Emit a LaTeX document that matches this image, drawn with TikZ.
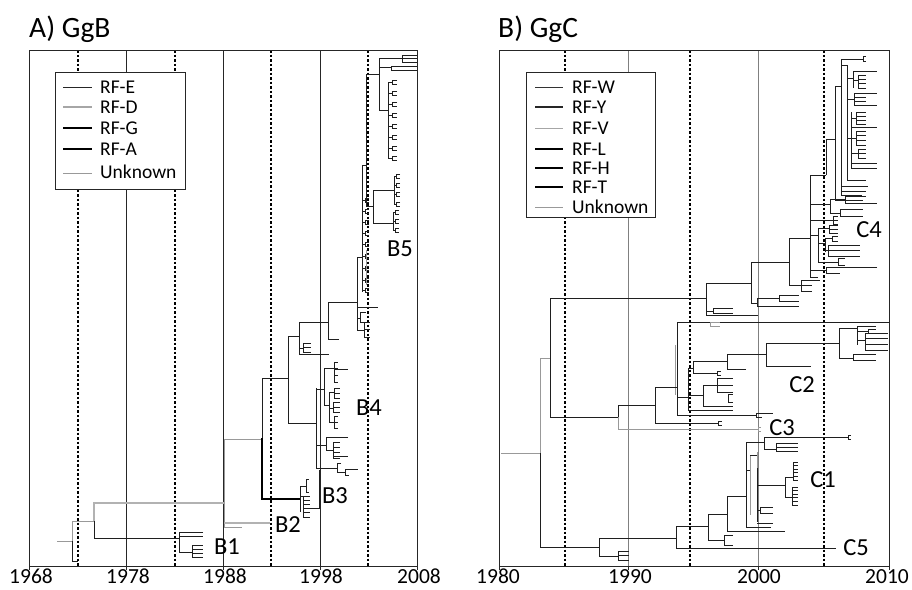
\documentclass[tikz,border=0pt]{standalone}
\usepackage{fontspec}
\setmainfont{Carlito}
\tikzset{
  tr/.style={draw=black!88, line width=0.9pt},
  ug/.style={draw=black!40, line width=0.9pt},
  dg/.style={draw=black!30, line width=2.8pt},
  tk/.style={draw=black, line width=1.8pt},
  gsa/.style={draw=black!85, line width=1pt},
  gsb/.style={draw=black!50, line width=1pt},
  gd/.style={draw=black, line width=1.1pt, dash pattern=on 2.5pt off 2pt},
  fra/.style={draw=black!85, line width=1pt},
  legbox/.style={draw=black!85, fill=white, line width=0.9pt},
  legtxt/.style={anchor=west, inner sep=0pt, font=\fontsize{19.5}{20}\selectfont},
  yr/.style={anchor=base, inner sep=0pt, font=\fontsize{21.5}{22}\selectfont},
  ttl/.style={anchor=base west, inner sep=0pt, font=\fontsize{29.5}{30}\selectfont},
  cl/.style={inner sep=0pt, font=\fontsize{24.5}{25}\selectfont}
}
\newcommand\cmb[6][tr]{\draw[#1] (#2,#3) -- (#2,#4);
  \foreach \ii in {0,...,#6} {\draw[#1] (#2,{#3+(#4-#3)*\ii/#6}) -- (#5,{#3+(#4-#3)*\ii/#6});}}
\newcommand\mf[3]{\draw[tr] ({#1+#3},{#2-2}) -- (#1,{#2-2}) -- (#1,{#2+2}) -- ({#1+#3},{#2+2});}
\begin{document}
\begin{tikzpicture}[x=1pt,y=-1pt]
\useasboundingbox (0,0) rectangle (912,589);
\fill[white] (0,0) rectangle (912,589);
% ================= PANEL A =================
\node[ttl] (tA) at (29,37) {A) GgB};
\foreach \x in {126,223,320} \draw[gsa] (\x,50) -- (\x,566);
\foreach \x in {78,175,271,368} \draw[gd] (\x,50) -- (\x,566);
\draw[fra] (29,50) rectangle (417,566);
\foreach \x in {29,126,223,320,417} \draw[fra] (\x,566) -- (\x,570);
\node[yr] (a1) at (31,583) {1968};
\node[yr] (a2) at (128,583) {1978};
\node[yr] (a3) at (225,583) {1988};
\node[yr] (a4) at (321,583) {1998};
\node[yr] (a5) at (419,583) {2008};
% legend A
\draw[legbox] (55,72) rectangle (185,189);
\draw[draw=black!85, line width=1pt] (63,87) -- (92,87);
\draw[draw=black!35, line width=1.5pt] (63,107) -- (92,107);
\draw[draw=black, line width=1.4pt] (63,128) -- (92,128);
\draw[draw=black, line width=1.2pt] (63,149) -- (92,149);
\draw[draw=black!40, line width=0.9pt] (63,173) -- (92,173);
\node[legtxt] (la1) at (100,87) {RF-E};
\node[legtxt] (la2) at (100,107) {RF-D};
\node[legtxt] (la3) at (100,128) {RF-G};
\node[legtxt] (la4) at (100,149) {RF-A};
\node[legtxt] (la5) at (100,172) {Unknown};
% tree A root
\draw[ug] (57,541) -- (72,541);
\draw[ug] (72,521) -- (72,541);
\draw[tr] (72,541) -- (72,561) -- (78,561);
\draw[ug] (72,521) -- (94,521);
\draw[dg] (94,521) -- (94,503) -- (224,503);
\draw[tr] (94,521) -- (94,538) -- (179,538);
% B1
\draw[tr] (203,532) -- (179,532) -- (179,552) -- (192,552);
\draw[tr] (179,536) -- (203,536);
\cmb{192}{545}{557}{203}{3}
% node 224
\draw[ug] (262,439) -- (224,439) -- (224,527) -- (242,527);
\draw[dg] (224,523) -- (270,523);
% node 262
\draw[tr] (288,378) -- (262,378) -- (262,439);
\draw[tk] (262,438) -- (262,499) -- (300,499);
% B3
\draw[tr] (300,486) -- (300,512);
\draw[tr] (300,486) -- (306,486);
\cmb{306}{479}{492}{309}{1}
\draw[tr] (300,496) -- (303,496);
\cmb{303}{496}{517}{310}{5}
\draw[tr] (304,508) -- (319,508) -- (319,470);
% node 288
\draw[tr] (299,336) -- (288,336) -- (288,423) -- (316,423);
\draw[tr] (328,322) -- (299,322) -- (299,354) -- (329,354);
\draw[tr] (299,348) -- (303,348);
\cmb{303}{343}{352}{311}{2}
\draw[tr] (339,339) -- (328,339) -- (328,302) -- (357,302);
% B4
\draw[tr] (316,388) -- (316,468);
\draw[tr] (316,389) -- (324,389);
\draw[tr] (324,368) -- (324,405);
\draw[tr] (324,368) -- (334,368);
\cmb{334}{362}{382}{338}{3}
\draw[tr] (334,369) -- (348,369);
\draw[tr] (324,405) -- (329,405);
\draw[tr] (329,392) -- (329,422);
\draw[tr] (329,392) -- (334,392);
\cmb{334}{388}{398}{340}{2}
\draw[tr] (329,408) -- (333,408);
\cmb{333}{402}{412}{340}{2}
\draw[tr] (329,422) -- (334,422);
\cmb{334}{416}{428}{338}{2}
\draw[tr] (316,445) -- (326,445);
\draw[tr] (348,437) -- (326,437) -- (326,450) -- (333,450);
\cmb{333}{442}{458}{340}{3}
\draw[tr] (333,456) -- (348,456);
\draw[tr] (316,468) -- (337,468);
\draw[tr] (341,463) -- (337,463) -- (337,472) -- (345,472);
\cmb{345}{469}{475}{349}{1}
\draw[tr] (345,469) -- (358,469);
% B5
\draw[tr] (357,257) -- (357,330);
\draw[tr] (357,257) -- (362,257);
\draw[tr] (357,307) -- (378,307);
\draw[tr] (357,318) -- (360,318);
\cmb{360}{312}{322}{366}{1}
\draw[tr] (357,330) -- (364,330);
\cmb{364}{322}{337}{370}{2}
\draw[tr] (362,165) -- (362,292);
\foreach \yy in {200,211,222,233,244,256,268,280,290} {\draw[tr] (362,\yy) -- (365,\yy); \mf{365}{\yy}{4}}
\draw[ug] (366,250) -- (366,285);
\draw[tr] (362,165) -- (366,165);
\draw[tr] (366,74) -- (366,206);
\draw[tr] (366,206) -- (373,206);
\draw[tr] (394,190) -- (373,190) -- (373,223) -- (393,223);
\draw[tr] (394,176) -- (394,204);
\foreach \yy in {176,185,194,204} {\draw[tr] (394,\yy) -- (396,\yy); \mf{396}{\yy}{4}}
\draw[tr] (393,212) -- (393,230);
\foreach \yy in {212,221,230} {\draw[tr] (393,\yy) -- (395,\yy); \mf{395}{\yy}{4}}
\draw[tr] (366,74) -- (379,74);
\draw[tr] (379,58) -- (379,110);
\draw[tr] (379,58) -- (402,58);
\cmb{402}{55}{62}{417}{2}
\draw[tr] (379,67) -- (391,67);
\cmb{391}{66}{70}{417}{1}
\draw[tr] (379,110) -- (388,110);
\draw[tr] (388,82) -- (388,158);
\foreach \yy in {82,93,104,115,126,137,148,158} {\draw[tr] (388,\yy) -- (392,\yy); \mf{392}{\yy}{5}}
% clade labels A
\node[cl] (B1) at (227,547) {B1};
\node[cl] (B2) at (288,525) {B2};
\node[cl] (B3) at (335,496) {B3};
\node[cl] (B4) at (369,408) {B4};
\node[cl] (B5) at (400,249) {B5};
% ================= PANEL B =================
\node[ttl] (tB) at (498,37) {B) GgC};
\foreach \x in {628,758} \draw[gsb] (\x,50) -- (\x,566);
\foreach \x in {565,690,824} \draw[gd] (\x,50) -- (\x,566);
\draw[fra] (499,50) rectangle (889,566);
\foreach \x in {499,628,758,889} \draw[fra] (\x,566) -- (\x,570);
\node[yr] (b1) at (498,583) {1980};
\node[yr] (b2) at (630,583) {1990};
\node[yr] (b3) at (759,583) {2000};
\node[yr] (b4) at (887,583) {2010};
% legend B
\draw[legbox] (526,72) rectangle (655,217);
\draw[draw=black!80, line width=1pt] (535,87) -- (563,87);
\draw[draw=black!85, line width=1.2pt] (535,107) -- (563,107);
\draw[draw=black!35, line width=0.9pt] (535,128) -- (563,128);
\draw[draw=black, line width=1.3pt] (535,149) -- (563,149);
\draw[draw=black, line width=1.3pt] (535,168) -- (563,168);
\draw[draw=black, line width=1.5pt] (535,187) -- (563,187);
\draw[draw=black!40, line width=0.9pt] (535,207) -- (563,207);
\node[legtxt] (lb1) at (572,87) {RF-W};
\node[legtxt] (lb2) at (572,107) {RF-Y};
\node[legtxt] (lb3) at (572,128) {RF-V};
\node[legtxt] (lb4) at (572,149) {RF-L};
\node[legtxt] (lb5) at (572,168) {RF-H};
\node[legtxt] (lb6) at (572,187) {RF-T};
\node[legtxt] (lb7) at (572,207) {Unknown};
% tree B root
\draw[ug] (501,453) -- (540,453);
\draw[ug] (550,358) -- (540,358) -- (540,453);
\draw[tr] (540,453) -- (540,547) -- (599,547);
\draw[tr] (706,298) -- (550,298) -- (550,417) -- (618,417);
% lower part (C5, C1)
\draw[tr] (676,538) -- (599,538) -- (599,556) -- (618,556);
\cmb{618}{551}{560}{629}{2}
\draw[tr] (708,526) -- (676,526) -- (676,548) -- (836,548);
\draw[tr] (727,514) -- (708,514) -- (708,540) -- (724,540);
\cmb{724}{535}{545}{733}{1}
\draw[tr] (746,496) -- (727,496) -- (727,531) -- (785,531);
\draw[tr] (764,442) -- (746,442) -- (746,527) -- (771,527);
\draw[tr] (757,523) -- (773,523);
\draw[tr] (746,470) -- (750,470);
\draw[ug] (750,455) -- (750,515);
\draw[tr] (750,455) -- (757,455);
\draw[ug] (757,452) -- (757,468);
\draw[tr] (757,468) -- (757,522);
\draw[tr] (757,485) -- (785,485);
\draw[tr] (793,477) -- (785,477) -- (785,497) -- (792,497);
\cmb{793}{462}{480}{798}{5}
\cmb{792}{487}{505}{798}{5}
\draw[tr] (757,510) -- (760,510);
\cmb{760}{507}{513}{773}{1}
% C3 region
\draw[tr] (848,437) -- (764,437) -- (764,449) -- (776,449);
\cmb{776}{443}{451}{798}{2}
\cmb{848}{435}{439}{851}{1}
% node 618
\draw[tr] (655,405) -- (618,405) -- (618,417);
\draw[ug] (618,417) -- (618,429) -- (758,429);
\cmb[ug]{758}{427}{431}{761}{1}
% node 655
\draw[tr] (674,387) -- (655,387) -- (655,423) -- (718,423);
\cmb{718}{421}{425}{722}{1}
% node 677 (C2)
\draw[tr] (889,322) -- (677,322) -- (677,415) -- (756,415);
\cmb{756}{413}{417}{762}{1}
\draw[tr] (756,413) -- (773,413);
\draw[ug] (675,345) -- (675,395);
\draw[tr] (674,387) -- (677,387);
\cmb[ug]{710}{322}{326}{720}{1}
\draw[tr] (677,397) -- (688,397);
\draw[tr] (688,368) -- (688,410);
\draw[tr] (688,368) -- (693,368);
\draw[tr] (693,361) -- (693,373);
\draw[tr] (693,361) -- (727,361);
\draw[tr] (746,369) -- (727,369) -- (727,354) -- (766,354);
\draw[tr] (839,343) -- (766,343) -- (766,366) -- (811,366);
\draw[tr] (693,373) -- (717,373);
\cmb{717}{371}{375}{721}{1}
\draw[tr] (688,395) -- (703,395);
\draw[tr] (717,385) -- (703,385) -- (703,406) -- (733,406);
\cmb{717}{378}{392}{733}{2}
\cmb{728}{394}{402}{733}{1}
\draw[tr] (688,410) -- (733,410);
\draw[tr] (857,328) -- (839,328) -- (839,358) -- (853,358);
\draw[tr] (857,326) -- (857,345);
\draw[tr] (857,326) -- (876,326);
\draw[tr] (857,340) -- (865,340);
\cmb{865}{333}{350}{888}{3}
\cmb{853}{354}{360}{876}{1}
\draw[tr] (857,331) -- (868,331);
\cmb{868}{329}{333}{876}{1}
% upper part
\draw[tr] (751,283) -- (706,283) -- (706,315) -- (758,315);
\draw[tr] (706,311) -- (713,311);
\cmb{713}{308}{313}{733}{1}
\draw[tr] (789,262) -- (751,262) -- (751,303) -- (757,303);
\draw[tr] (757,298) -- (757,306) -- (799,306);
\draw[tr] (757,298) -- (779,298);
\cmb{779}{295}{301}{799}{1}
\draw[tr] (810,238) -- (789,238) -- (789,285) -- (801,285);
\cmb{801}{280}{291}{812}{2}
\draw[tr] (801,280) -- (820,280);
% node 810
\draw[tr] (826,175) -- (810,175) -- (810,277) -- (818,277);
\draw[tr] (810,204) -- (830,204);
\draw[tr] (845,199) -- (830,199) -- (830,213) -- (840,213);
\cmb{845}{196}{203}{866}{1}
\draw[tr] (845,203) -- (877,203);
\cmb{840}{209}{216}{863}{1}
\draw[tr] (810,220) -- (833,220);
\cmb{833}{216}{224}{838}{2}
\draw[tr] (810,235) -- (818,235);
\draw[tr] (818,228) -- (818,262);
\draw[tr] (818,228) -- (829,228);
\cmb{829}{225}{233}{838}{2}
\draw[tr] (818,243) -- (825,243);
\draw[tr] (825,238) -- (825,252);
\draw[tr] (825,238) -- (832,238);
\cmb{832}{236}{241}{838}{1}
\draw[tr] (825,250) -- (828,250);
\cmb{828}{245}{256}{860}{2}
\draw[tr] (818,262) -- (838,262);
\cmb{838}{258}{265}{845}{1}
\draw[tr] (810,270) -- (826,270);
\draw[tr] (877,267) -- (826,267) -- (826,273) -- (840,273);
% C4 main
\draw[tr] (826,139) -- (826,175);
\draw[tr] (826,139) -- (835,139);
\draw[tr] (835,86) -- (835,200) -- (863,200);
\draw[tr] (835,86) -- (841,86);
\draw[tr] (841,59) -- (841,195) -- (862,195);
\draw[tr] (841,59) -- (863,59);
\cmb{863}{56}{61}{866}{1}
\draw[tr] (841,65) -- (847,65);
\draw[tr] (847,65) -- (847,180) -- (866,180);
\draw[tr] (841,186) -- (868,186);
\draw[tr] (841,191) -- (866,191);
% cluster 1
\draw[tr] (847,78) -- (853,78);
\draw[tr] (853,71) -- (853,88);
\draw[tr] (853,71) -- (877,71);
\draw[tr] (853,80) -- (858,80);
\cmb{858}{75}{88}{866}{3}
% cluster 2
\draw[tr] (847,99) -- (854,99);
\cmb{854}{93}{105}{866}{3}
\draw[tr] (854,93) -- (877,93);
\draw[tr] (854,105) -- (877,105);
% cluster 3
\draw[tr] (847,138) -- (851,138);
\draw[tr] (851,112) -- (851,168);
\draw[tr] (851,118) -- (856,118);
\cmb{856}{112}{124}{866}{3}
\draw[tr] (851,127) -- (877,127);
\draw[tr] (851,138) -- (856,138);
\cmb{856}{131}{145}{866}{3}
\draw[tr] (851,153) -- (858,153);
\cmb{858}{149}{158}{866}{2}
\draw[tr] (851,163) -- (877,163);
\draw[tr] (851,168) -- (877,168);
% clade labels B
\node[cl] (C4) at (869,230) {C4};
\node[cl] (C2) at (802,385) {C2};
\node[cl] (C3) at (782,428) {C3};
\node[cl] (C1) at (823,480) {C1};
\node[cl] (C5) at (856,548) {C5};
\end{tikzpicture}
\end{document}
